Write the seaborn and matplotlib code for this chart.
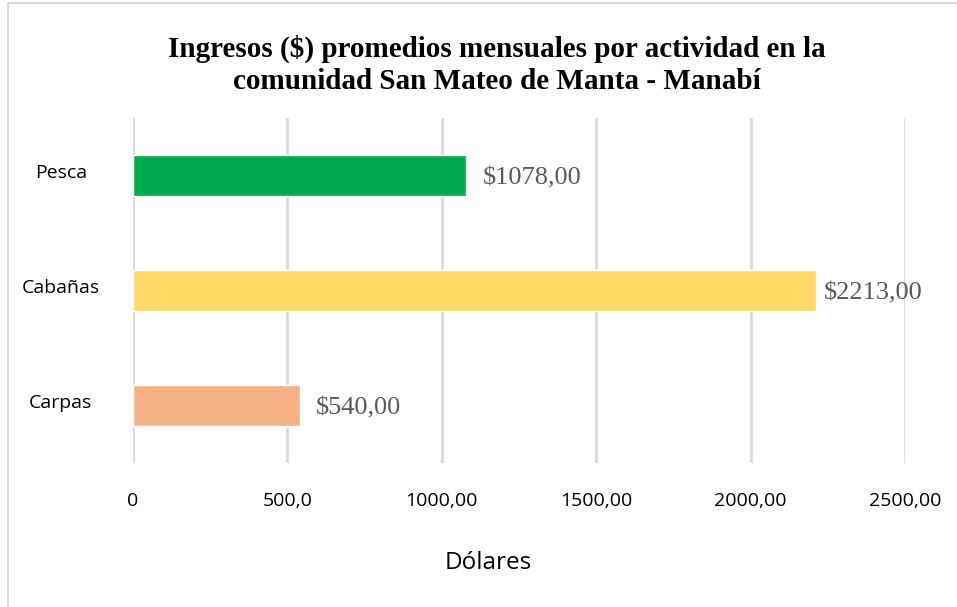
import matplotlib
matplotlib.use("Agg")
import matplotlib.pyplot as plt
import matplotlib.transforms as mtransforms
import seaborn as sns
import pandas as pd
from matplotlib.patches import Rectangle

categories = ["Pesca", "Cabañas", "Carpas"]
values = [1078.00, 2213.00, 540.00]
value_labels = ["$1078,00", "$2213,00", "$540,00"]
colors = ["#00AC4F", "#FFD966", "#F4B183"]
xticks = [0, 500, 1000, 1500, 2000, 2500]
xtick_labels = ["0", "500,0", "1000,00", "1500,00", "2000,00", "2500,00"]
label_offsets_px = [17, 7, 16]

sns.set_theme(style="white")
plt.rcParams["font.family"] = ["Open Sans", "DejaVu Sans"]

df = pd.DataFrame({"Actividad": categories, "Ingreso": values})

fig = plt.figure(figsize=(9.57, 6.07), dpi=100)
ax = fig.add_axes([0.139, 0.2372, 0.8067, 0.5684])

sns.barplot(data=df, y="Actividad", x="Ingreso", hue="Actividad",
            palette=colors, order=categories, hue_order=categories,
            width=0.355, saturation=1, legend=False, ax=ax, zorder=3)

ax.set_xlim(0, 2500)
ax.set_ylim(2.5, -0.5)
ax.set_xticks(xticks)
ax.set_xticklabels(xtick_labels, fontsize=14, color="#000000")
ax.tick_params(axis="x", length=0, pad=21)
ax.tick_params(axis="y", length=0, pad=52)
shift_up = mtransforms.ScaledTranslation(0, 5 / 100, fig.dpi_scale_trans)
for lab in ax.get_yticklabels():
    lab.set_fontsize(14)
    lab.set_color("#000000")
    lab.set_horizontalalignment("center")
    lab.set_transform(lab.get_transform() + shift_up)
ax.grid(axis="x", color="#D9D9D9", linewidth=2, zorder=0)
ax.grid(axis="y", visible=False)
for s in ax.spines.values():
    s.set_visible(False)
ax.set_ylabel("")
ax.set_xlabel("Dólares", fontsize=17.5, color="#000000")
ax.xaxis.set_label_coords(0.46, -0.256)

for i, (v, lbl, off) in enumerate(zip(values, value_labels, label_offsets_px)):
    ax.annotate(lbl, xy=(v, i), xytext=(off * 0.72, -3 * 0.72), textcoords="offset points",
                ha="left", va="center", fontsize=19, color="#595959",
                family=["Liberation Serif", "DejaVu Serif"])

fig.text(0.519, 0.893, "Ingresos ($) promedios mensuales por actividad en la\ncomunidad San Mateo de Manta - Manabí",
         ha="center", va="center", fontsize=21, fontweight="bold", color="#000000",
         family=["Liberation Serif", "DejaVu Serif"], linespacing=1.25)

fig.add_artist(Rectangle((0.008, -0.01), 1.2, 1.005, transform=fig.transFigure,
                         fill=False, edgecolor="#D9D9D9", linewidth=1.5))

fig.savefig("out.png", dpi=100)
